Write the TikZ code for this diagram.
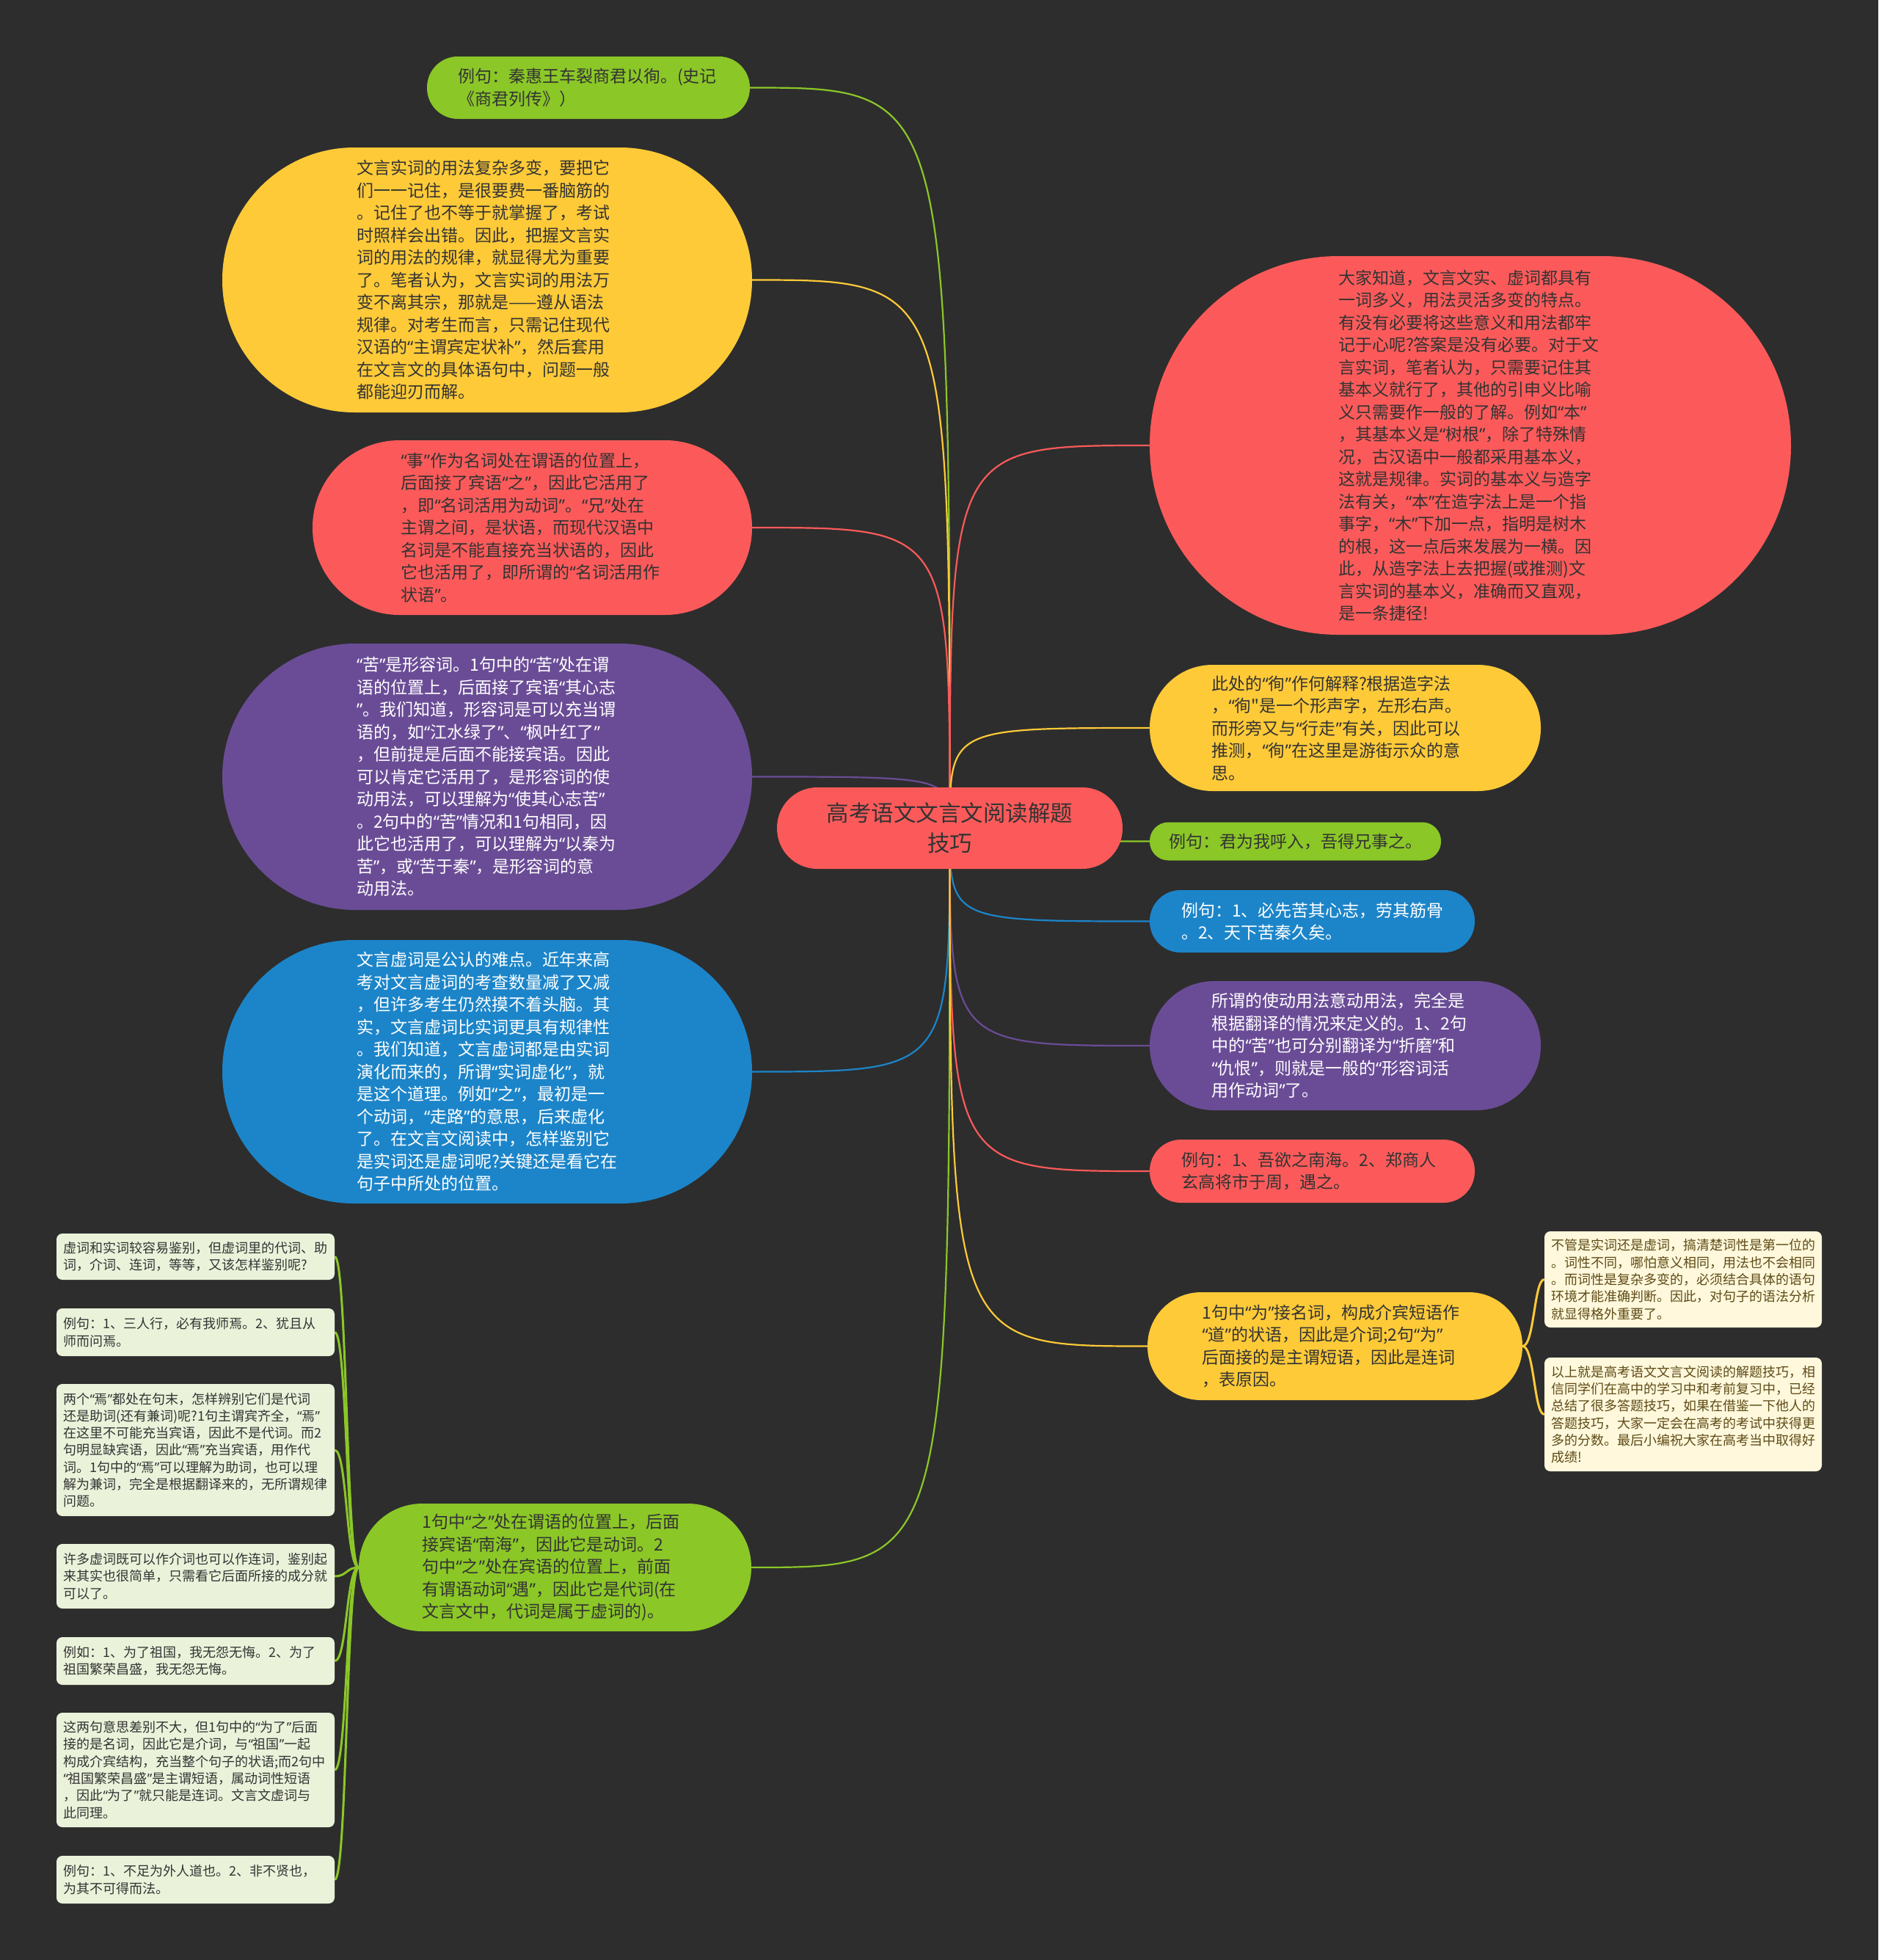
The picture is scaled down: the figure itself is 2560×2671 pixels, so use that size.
\documentclass[tikz,border=0pt]{standalone}
\usepackage{fontspec}
\newfontfamily\cjk{Noto Sans CJK SC}
\newfontfamily\qf{Noto Sans}
\usetikzlibrary{backgrounds}
\setlength{\parindent}{0pt}
\newcommand\Q[1]{{\qf “}#1{\qf ”}}
\newcommand\qL{{\qf “}}
\newcommand\qR{{\qf ”}}
\definecolor{bgc}{RGB}{45,45,45}
\definecolor{cred}{RGB}{252,90,90}
\definecolor{cyel}{RGB}{254,202,56}
\definecolor{cgrn}{RGB}{139,199,39}
\definecolor{cpur}{RGB}{106,76,150}
\definecolor{cblu}{RGB}{28,133,201}
\definecolor{ccream}{RGB}{255,248,220}
\definecolor{clgrn}{RGB}{234,243,218}
\definecolor{dtxt}{RGB}{51,51,51}
\definecolor{btxt}{RGB}{94,75,22}
\tikzset{
  topic/.style n args={3}{inner sep=0pt, minimum width=#1pt, minimum height=#2pt,
    text width=#3pt, align=left, rounded corners={(#2/2-0.5)*1pt},
    font=\cjk\fontsize{23}{30.5}\selectfont},
  lgbox/.style={inner sep=0pt, minimum width=379pt, minimum height=#1pt, text width=360pt,
    align=left, rounded corners=8pt, fill=clgrn, text=dtxt,
    font=\cjk\fontsize{18}{23.3}\selectfont},
  crbox/.style={inner sep=0pt, minimum width=378pt, minimum height=#1pt, text width=360pt,
    align=left, rounded corners=8pt, fill=ccream, text=btxt,
    font=\cjk\fontsize{18}{23.3}\selectfont},
  conn/.style={line width=2.2pt},
  subconn/.style={line width=3pt},
}
\begin{document}
\begin{tikzpicture}[x=1pt,y=-1pt]
\useasboundingbox (0,0) rectangle (2560,2671);

% central topic
\node[topic={471}{111}{420}, fill=cred, text=dtxt, align=center,
  font=\cjk\fontsize{30.5}{41}\selectfont] (C) at (1294.5,1128.5)
  {高考语文文言文阅读解题\\技巧};

% left side
\node[topic={440}{85}{356}, fill=cgrn, text=dtxt] (g1) at (802,119.5)
{例句：秦惠王车裂商君以徇。(史记\\
《商君列传》）};

\node[topic={722}{361}{356}, fill=cyel, text=dtxt] (y1) at (664,381.5)
{文言实词的用法复杂多变，要把它\\
们一一记住，是很要费一番脑筋的\\
。记住了也不等于就掌握了，考试\\
时照样会出错。因此，把握文言实\\
词的用法的规律，就显得尤为重要\\
了。笔者认为，文言实词的用法万\\
变不离其宗，那就是——遵从语法\\
规律。对考生而言，只需记住现代\\
汉语的\Q{主谓宾定状补}，然后套用\\
在文言文的具体语句中，问题一般\\
都能迎刃而解。};

\node[topic={599}{238}{358}, fill=cred, text=dtxt] (r1) at (725.5,719)
{\Q{事}作为名词处在谓语的位置上，\\
后面接了宾语\Q{之}，因此它活用了\\
，即\Q{名词活用为动词}。\Q{兄}处在\\
主谓之间，是状语，而现代汉语中\\
名词是不能直接充当状语的，因此\\
它也活用了，即所谓的\qL{}名词活用作\\
状语\qR{}。};

\node[topic={722}{363}{356}, fill=cpur, text=white] (p1) at (664,1058.5)
{\Q{苦}是形容词。1句中的\Q{苦}处在谓\\
语的位置上，后面接了宾语\qL{}其心志\\
\qR{}。我们知道，形容词是可以充当谓\\
语的，如\Q{江水绿了}、\Q{枫叶红了}\\
，但前提是后面不能接宾语。因此\\
可以肯定它活用了，是形容词的使\\
动用法，可以理解为\Q{使其心志苦}\\
。2句中的\Q{苦}情况和1句相同，因\\
此它也活用了，可以理解为\qL{}以秦为\\
苦\qR{}，或\Q{苦于秦}，是形容词的意\\
动用法。};

\node[topic={722}{359}{356}, fill=cblu, text=white] (b1) at (664,1460.5)
{文言虚词是公认的难点。近年来高\\
考对文言虚词的考查数量减了又减\\
，但许多考生仍然摸不着头脑。其\\
实，文言虚词比实词更具有规律性\\
。我们知道，文言虚词都是由实词\\
演化而来的，所谓\Q{实词虚化}，就\\
是这个道理。例如\Q{之}，最初是一\\
个动词，\Q{走路}的意思，后来虚化\\
了。在文言文阅读中，怎样鉴别它\\
是实词还是虚词呢?关键还是看它在\\
句子中所处的位置。};

\node[topic={535}{174}{362}, fill=cgrn, text=dtxt] (gb) at (756.5,2136)
{1句中\Q{之}处在谓语的位置上，后面\\
接宾语\Q{南海}，因此它是动词。2\\
句中\Q{之}处在宾语的位置上，前面\\
有谓语动词\Q{遇}，因此它是代词(在\\
文言文中，代词是属于虚词的)。};

% left leaves
\node[lgbox=63] (l1) at (266.5,1712.5)
{虚词和实词较容易鉴别，但虚词里的代词、助\\
词，介词、连词，等等，又该怎样鉴别呢?};
\node[lgbox=65] (l2) at (266.5,1815.5)
{例句：1、三人行，必有我师焉。2、犹且从\\
师而问焉。};
\node[lgbox=180] (l3) at (266.5,1976)
{两个\Q{焉}都处在句末，怎样辨别它们是代词\\
还是助词(还有兼词)呢?1句主谓宾齐全，\Q{焉}\\
在这里不可能充当宾语，因此不是代词。而2\\
句明显缺宾语，因此\Q{焉}充当宾语，用作代\\
词。1句中的\Q{焉}可以理解为助词，也可以理\\
解为兼词，完全是根据翻译来的，无所谓规律\\
问题。};
\node[lgbox=88] (l4) at (266.5,2148)
{许多虚词既可以作介词也可以作连词，鉴别起\\
来其实也很简单，只需看它后面所接的成分就\\
可以了。};
\node[lgbox=65] (l5) at (266.5,2263.5)
{例如：1、为了祖国，我无怨无悔。2、为了\\
祖国繁荣昌盛，我无怨无悔。};
\node[lgbox=156] (l6) at (266.5,2412)
{这两句意思差别不大，但1句中的\Q{为了}后面\\
接的是名词，因此它是介词，与\Q{祖国}一起\\
构成介宾结构，充当整个句子的状语;而2句中\\
\Q{祖国繁荣昌盛}是主谓短语，属动词性短语\\
，因此\Q{为了}就只能是连词。文言文虚词与\\
此同理。};
\node[lgbox=65] (l7) at (266.5,2561.5)
{例句：1、不足为外人道也。2、非不贤也，\\
为其不可得而法。};

% right side
\node[topic={874}{516}{360}, fill=cred, text=dtxt] (r2) at (2004,607)
{大家知道，文言文实、虚词都具有\\
一词多义，用法灵活多变的特点。\\
有没有必要将这些意义和用法都牢\\
记于心呢?答案是没有必要。对于文\\
言实词，笔者认为，只需要记住其\\
基本义就行了，其他的引申义比喻\\
义只需要作一般的了解。例如\Q{本}\\
，其基本义是\Q{树根}，除了特殊情\\
况，古汉语中一般都采用基本义，\\
这就是规律。实词的基本义与造字\\
法有关，\Q{本}在造字法上是一个指\\
事字，\Q{木}下加一点，指明是树木\\
的根，这一点后来发展为一横。因\\
此，从造字法上去把握(或推测)文\\
言实词的基本义，准确而又直观，\\
是一条捷径!};

\node[topic={533}{172}{364}, fill=cyel, text=dtxt] (y2) at (1833.5,992)
{此处的\Q{徇}作何解释?根据造字法\\
，\qL{}徇"是一个形声字，左形右声。\\
而形旁又与\Q{行走}有关，因此可以\\
推测，\Q{徇}在这里是游街示众的意\\
思。};

\node[topic={397}{52}{350}, fill=cgrn, text=dtxt, align=center] (g2) at (1765.5,1146.5)
{例句：君为我呼入，吾得兄事之。};

\node[topic={443}{85}{357}, fill=cblu, text=white] (b2) at (1788.5,1255.5)
{例句：1、必先苦其心志，劳其筋骨\\
。2、天下苦秦久矣。};

\node[topic={533}{176}{364}, fill=cpur, text=white] (p2) at (1833.5,1425)
{所谓的使动用法意动用法，完全是\\
根据翻译的情况来定义的。1、2句\\
中的\Q{苦}也可分别翻译为\Q{折磨}和\\
\Q{仇恨}，则就是一般的\qL{}形容词活\\
用作动词\qR{}了。};

\node[topic={443}{86}{357}, fill=cred, text=dtxt] (r3) at (1788.5,1596)
{例句：1、吾欲之南海。2、郑商人\\
玄高将市于周，遇之。};

\node[topic={511}{147}{362}, fill=cyel, text=dtxt] (y3) at (1819.5,1834.5)
{1句中\Q{为}接名词，构成介宾短语作\\
\Q{道}的状语，因此是介词;2句\Q{为}\\
后面接的是主谓短语，因此是连词\\
，表原因。};

% right leaves
\node[crbox=131] (c1) at (2294,1743.5)
{不管是实词还是虚词，搞清楚词性是第一位的\\
。词性不同，哪怕意义相同，用法也不会相同\\
。而词性是复杂多变的，必须结合具体的语句\\
环境才能准确判断。因此，对句子的语法分析\\
就显得格外重要了。};
\node[crbox=155] (c2) at (2294,1927.5)
{以上就是高考语文文言文阅读的解题技巧，相\\
信同学们在高中的学习中和考前复习中，已经\\
总结了很多答题技巧，如果在借鉴一下他人的\\
答题技巧，大家一定会在高考的考试中获得更\\
多的分数。最后小编祝大家在高考当中取得好\\
成绩!};

\begin{pgfonlayer}{background}
\fill[bgc] (0,0) rectangle (2560,2671);
% main connectors
\draw[conn, cgrn] (C.center) .. controls (C.center |- g1.east) .. (g1.east);
\draw[conn, cyel] (C.center) .. controls (C.center |- y1.east) .. (y1.east);
\draw[conn, cred] (C.center) .. controls (C.center |- r1.east) .. (r1.east);
\draw[conn, cpur] (C.center) .. controls (C.center |- p1.east) .. (p1.east);
\draw[conn, cblu] (C.center) .. controls (C.center |- b1.east) .. (b1.east);
\draw[conn, cgrn] (C.center) .. controls (C.center |- gb.east) .. (gb.east);
\draw[conn, cred] (C.center) .. controls (C.center |- r2.west) .. (r2.west);
\draw[conn, cyel] (C.center) .. controls (C.center |- y2.west) .. (y2.west);
\draw[conn, cgrn] (C.center) .. controls (C.center |- g2.west) .. (g2.west);
\draw[conn, cblu] (C.center) .. controls (C.center |- b2.west) .. (b2.west);
\draw[conn, cpur] (C.center) .. controls (C.center |- p2.west) .. (p2.west);
\draw[conn, cred] (C.center) .. controls (C.center |- r3.west) .. (r3.west);
\draw[conn, cyel] (C.center) .. controls (C.center |- y3.west) .. (y3.west);
% sub connectors
\foreach \n in {l1,l2,l3,l4,l5,l6,l7}
  \draw[subconn, cgrn] (gb.west) .. controls +(-17,0) and +(17,0) .. (\n.east);
\foreach \n in {c1,c2}
  \draw[subconn, cyel] (y3.east) .. controls +(16,0) and +(-14,0) .. (\n.west);
\end{pgfonlayer}
\end{tikzpicture}
\end{document}
